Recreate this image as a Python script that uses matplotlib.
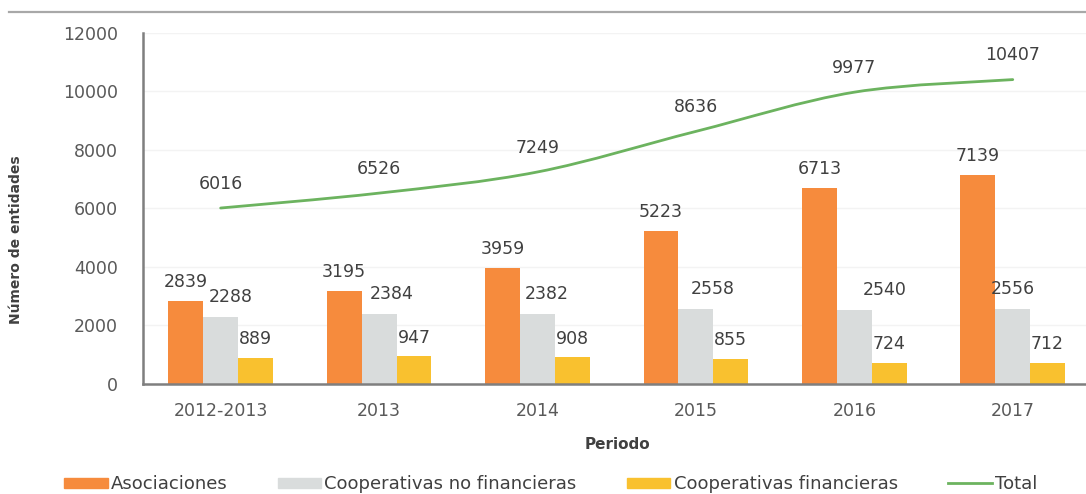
import numpy as np
import matplotlib.pyplot as plt
from matplotlib.path import Path
from matplotlib.patches import PathPatch, Patch
from matplotlib.lines import Line2D

# Entidades por periodo
periodos = ["2012-2013", "2013", "2014", "2015", "2016", "2017"]
asociaciones = [2839, 3195, 3959, 5223, 6713, 7139]
coop_no_fin = [2288, 2384, 2382, 2558, 2540, 2556]
coop_fin = [889, 947, 908, 855, 724, 712]
total = [6016, 6526, 7249, 8636, 9977, 10407]

c_asoc = "#f68b3d"
c_nofin = "#d9dcdc"
c_fin = "#f9c12f"
c_total = "#6cb35f"
c_text = "#404040"

fig = plt.figure(figsize=(10.86, 4.94), dpi=100)
ax = fig.add_axes([0.1317, 0.2227, 0.8738, 0.7105])

x = np.arange(len(periodos))
w = 0.22
ax.bar(x - w, asociaciones, w, color=c_asoc, zorder=2)
ax.bar(x, coop_no_fin, w, color=c_nofin, zorder=2)
ax.bar(x + w, coop_fin, w, color=c_fin, zorder=2)

# curva suavizada (bezier tipo catmull-rom) para el total
pts = np.column_stack([x, total]).astype(float)
ext = np.vstack([pts[0], pts, pts[-1]])
verts = [tuple(pts[0])]
codes = [Path.MOVETO]
for i in range(1, len(ext) - 2):
    p0, p1, p2, p3 = ext[i - 1], ext[i], ext[i + 1], ext[i + 2]
    c1 = p1 + (p2 - p0) / 6
    c2 = p2 - (p3 - p1) / 6
    verts += [tuple(c1), tuple(c2), tuple(p2)]
    codes += [Path.CURVE4] * 3
ax.add_patch(PathPatch(Path(verts, codes), facecolor="none",
                       edgecolor=c_total, lw=2.0, zorder=3, capstyle="round"))

# etiquetas de valores
lbl = dict(ha="center", va="bottom", fontsize=12.5, color=c_text,
           textcoords="offset points")
gris_dx = [7, 9, 7, 12, 22, 0]
for i in range(len(x)):
    ax.annotate(str(asociaciones[i]), (x[i] - w, asociaciones[i]), xytext=(0, 7), **lbl)
    ax.annotate(str(coop_no_fin[i]), (x[i], coop_no_fin[i]), xytext=(gris_dx[i], 8), **lbl)
    ax.annotate(str(coop_fin[i]), (x[i] + w, coop_fin[i]), xytext=(0, 7), **lbl)
    ax.annotate(str(total[i]), (x[i], total[i]), xytext=(0, 11), **lbl)

ax.set_xlim(-0.49, 5.5)
ax.set_ylim(0, 12000)
ax.set_yticks(range(0, 12001, 2000))
ax.set_xticks(x)
ax.set_xticklabels(periodos)
ax.tick_params(axis="y", length=0, pad=18, labelsize=12.5, labelcolor="#595959")
ax.tick_params(axis="x", length=0, pad=13, labelsize=12.5, labelcolor="#595959")
ax.grid(axis="y", color="#f3f3f3", lw=1, zorder=0)
for s in ["top", "right"]:
    ax.spines[s].set_visible(False)
for s in ["left", "bottom"]:
    ax.spines[s].set_color("#7f7f7f")
    ax.spines[s].set_linewidth(1.8)
ax.set_xlabel("Periodo", fontsize=11, fontweight="bold", color=c_text, labelpad=12)

fig.text(0.015, 0.514, "Número de entidades", rotation=90, ha="center", va="center",
         fontsize=10, fontweight="bold", color=c_text)

# línea superior del marco
fig.add_artist(Line2D([0.008, 1.0], [1 - 12 / 494, 1 - 12 / 494],
                      transform=fig.transFigure, color="#a8a8a8", lw=1.6))

handles = [Patch(color=c_asoc), Patch(color=c_nofin), Patch(color=c_fin),
           Line2D([], [], color=c_total, lw=2)]
labels = ["Asociaciones", "Cooperativas no financieras",
          "Cooperativas financieras", "Total"]
fig.legend(handles, labels, loc="center", bbox_to_anchor=(0.507, 0.02), ncol=4,
           frameon=False, fontsize=13, handlelength=2.4, handleheight=0.45,
           handletextpad=0.17, columnspacing=2.8, labelcolor=c_text,
           borderpad=0.1)

fig.savefig("out.png", dpi=100)
